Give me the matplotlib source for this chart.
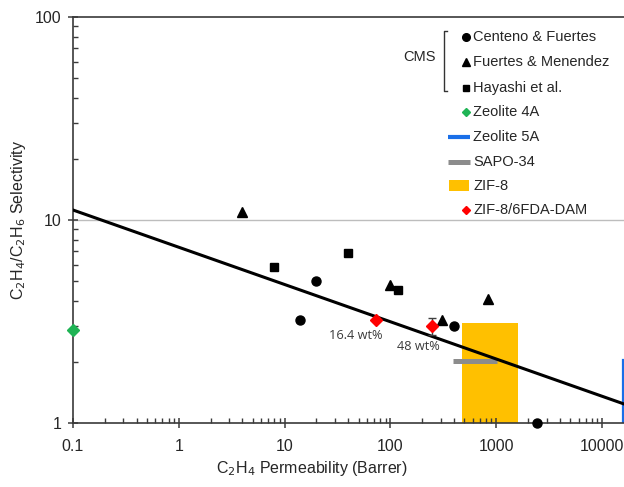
import matplotlib
matplotlib.use("Agg")
import matplotlib.pyplot as plt
from matplotlib.patches import Rectangle
from matplotlib.lines import Line2D
from matplotlib.ticker import FixedLocator, FuncFormatter, NullFormatter
import numpy as np

plt.rcParams['font.family'] = ['Liberation Sans', 'DejaVu Sans']

# ---- data ----
cf_x = [14, 20, 400, 2450]
cf_y = [3.2, 5.0, 3.0, 1.0]
fm_x = [4, 100, 305, 840]
fm_y = [10.9, 4.8, 3.2, 4.1]
hy_x = [8, 40, 119]
hy_y = [5.9, 6.9, 4.5]
z4a_x = [0.1]
z4a_y = [2.87]
mmm_x = [73, 249]
mmm_y = [3.22, 3.0]
mmm_err = [0.0, 0.3]
mmm_labels = ["16.4 wt%", "48 wt%"]
mmm_label_x = [47, 182]
mmm_label_y = [2.71, 2.37]
sapo_x = [394, 1010]
sapo_y = [2.03, 2.03]
zif8_x = [479, 1620]
zif8_y = [1.0, 3.1]
z5a_x = [15900, 15900]
z5a_y = [1.0, 2.04]
trend_x = [0.1, 1e5]
trend_y = [11.2, 0.888]
xticks = [0.1, 1, 10, 100, 1000, 10000, 100000]
yticks = [1, 10, 100]

W, H = 624, 487
fig = plt.figure(figsize=(W / 100, H / 100), dpi=100)
left, bottom, top = 73, 423, 17
right = 73 + 6 * 105.8
ax = fig.add_axes([left / W, 1 - bottom / H, (right - left) / W, (bottom - top) / H])
ax.set_xscale('log')
ax.set_yscale('log')
ax.set_xlim(0.1, 1e5)
ax.set_ylim(1, 100)

axc = '#3a3a3a'
for s in ax.spines.values():
    s.set_color(axc)
    s.set_linewidth(1.2)

ax.xaxis.set_major_locator(FixedLocator(xticks))
ax.yaxis.set_major_locator(FixedLocator(yticks))
fmt = FuncFormatter(lambda v, p: '%g' % v)
ax.xaxis.set_major_formatter(fmt)
ax.yaxis.set_major_formatter(fmt)
ax.xaxis.set_minor_formatter(NullFormatter())
ax.yaxis.set_minor_formatter(NullFormatter())
ax.tick_params(which='major', direction='inout', length=7, width=1.1, color=axc,
               labelsize=11.5, labelcolor='#262626', pad=5)
ax.tick_params(which='minor', direction='in', length=3.5, width=1.0, color=axc)
ax.tick_params(axis='x', which='major', pad=8)

ax.axhline(10, color='#bdbdbd', lw=1.0, zorder=0)

# ZIF-8 box
ax.add_patch(Rectangle((zif8_x[0], zif8_y[0]), zif8_x[1] - zif8_x[0], zif8_y[1] - zif8_y[0],
                       facecolor='#FFC000', edgecolor='none', zorder=1))
# SAPO-34
ax.plot(sapo_x, sapo_y, color='#8c8c8c', lw=3.6, solid_capstyle='butt', zorder=2)
# Zeolite 5A
ax.plot(z5a_x, z5a_y, color='#1a6fe8', lw=1.6, zorder=2)
# trend line
ax.plot(trend_x, trend_y, color='black', lw=2.2, zorder=3)

ax.plot(cf_x, cf_y, 'o', color='black', ms=6.5, zorder=4, clip_on=False)
ax.plot(fm_x, fm_y, '^', color='black', ms=7, zorder=4, clip_on=False)
ax.plot(hy_x, hy_y, 's', color='black', ms=6, zorder=4, clip_on=False)
ax.plot(z4a_x, z4a_y, 'D', color='#1fb455', ms=6.5, zorder=4, clip_on=False)
ax.errorbar(mmm_x, mmm_y, yerr=mmm_err, fmt='D', color='#ff0000', ecolor='#404040',
            elinewidth=1, capsize=3, ms=6.5, zorder=5)
for t, x, y in zip(mmm_labels, mmm_label_x, mmm_label_y):
    ax.text(x, y, t, ha='center', va='center', fontsize=9.2, color='#3a3a3a',
            family=['Open Sans', 'DejaVu Sans'])

ax.set_xlabel('C$_2$H$_4$ Permeability (Barrer)', fontsize=11.5, color='#262626', va='center')
ax.set_ylabel('C$_2$H$_4$/C$_2$H$_6$ Selectivity', fontsize=11.5, color='#262626', va='center')
ax.xaxis.set_label_coords((312 - left) / (right - left), -(469 - bottom) / (bottom - top))
ax.yaxis.set_label_coords(-(73 - 19) / (right - left), 0.5)

# ---- legend (drawn manually, pixel layout) ----
def fx(x):
    return x / W

def fy(y):
    return 1 - y / H

legend_names = ["Centeno & Fuertes", "Fuertes & Menendez", "Hayashi et al.", "Zeolite 4A",
                "Zeolite 5A", "SAPO-34", "ZIF-8", "ZIF-8/6FDA-DAM"]
rows = [37, 62, 88, 112, 137, 162, 186, 210]
tx = 473
for name, ry in zip(legend_names, rows):
    fig.text(fx(tx), fy(ry), name, fontsize=10.5, color='#262626', va='center', ha='left')

mk = [('o', 'black', 5.5), ('^', 'black', 5.5), ('s', 'black', 5), ('D', '#1fb455', 4.5)]
for (m, c, s), ry in zip(mk, rows[:4]):
    fig.add_artist(Line2D([fx(466)], [fy(ry)], marker=m, color=c, ms=s, ls='none'))
fig.add_artist(Line2D([fx(466)], [fy(rows[7])], marker='D', color='#ff0000', ms=4.5, ls='none'))
fig.add_artist(Line2D([fx(448), fx(470)], [fy(rows[4])] * 2, color='#1a6fe8', lw=3,
                      solid_capstyle='butt'))
fig.add_artist(Line2D([fx(448), fx(470)], [fy(rows[5])] * 2, color='#8c8c8c', lw=3.6,
                      solid_capstyle='butt'))
fig.add_artist(Rectangle((fx(449), fy(191)), (469 - 449) / W, 11 / H, facecolor='#FFC000',
                         edgecolor='none', transform=fig.transFigure))
# CMS bracket
fig.text(fx(436), fy(57), 'CMS', fontsize=10.5, color='#262626', va='center', ha='right')
fig.add_artist(Line2D([fx(447), fx(444), fx(444), fx(447)], [fy(31), fy(31), fy(91), fy(91)],
                      color='#333333', lw=1.0))

fig.savefig('out.png', dpi=100)
